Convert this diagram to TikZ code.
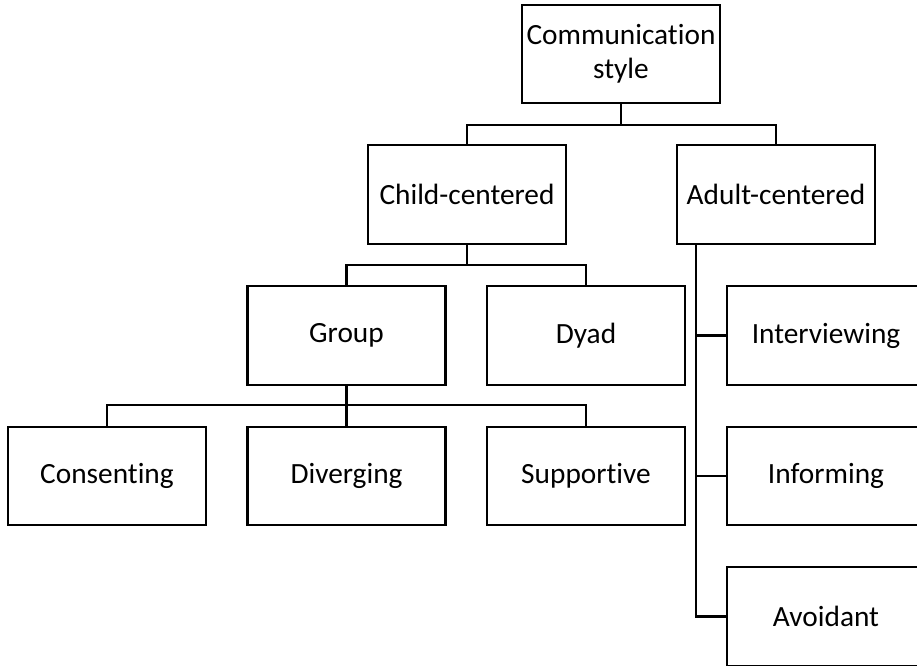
\documentclass[tikz,border=0pt]{standalone}
\usepackage{fontspec}
\setmainfont{Carlito}[RawFeature={-liga;-clig;-dlig}]
\usetikzlibrary{calc}
\tikzset{
  box/.style={draw=black, line width=1.6pt, fill=white, minimum width=148.5pt, minimum height=73.8pt, inner sep=0pt, align=center, font=\fontsize{22}{25.5}\selectfont},
  conn/.style={draw=black, line width=1.6pt}
}
\begin{document}
\begin{tikzpicture}[x=0.75pt,y=-0.75pt]
\useasboundingbox (0,0) rectangle (917,665);
\begin{scope}
\clip (0,0) rectangle (917,665);
\node[box] (comm) at (621,54) {Communication\\style};
\node[box] (child) at (467,194.5) {Child-centered};
\node[box] (adult) at (776,194.5) {Adult-centered};
\node[box] (group) at (346.5,335.5) {Group};
\node[box] (dyad) at (586,335.5) {Dyad};
\node[box] (cons) at (107,476) {Consenting};
\node[box] (div) at (346.5,476) {Diverging};
\node[box] (sup) at (586,476) {Supportive};
\node[box] (inter) at (826,335.5) {Interviewing};
\node[box] (inform) at (826,476) {Informing};
\node[box] (avoid) at (826,616.5) {Avoidant};
\coordinate (b1) at (621,125);
\coordinate (b2) at (467,265);
\coordinate (b3) at (346.5,405);
\coordinate (t0) at ($(adult.south west)+(20,0)$);
\draw[conn] (comm.south) -- (b1);
\draw[conn] (child.north) |- (b1) -| (adult.north);
\draw[conn] (child.south) -- (b2);
\draw[conn] (group.north) |- (b2) -| (dyad.north);
\draw[conn] (group.south) -- (div.north);
\draw[conn] (cons.north) |- (b3) -| (sup.north);
\draw[conn] (t0) |- (avoid.west);
\draw[conn] (inter.west) -- (inter.west -| t0);
\draw[conn] (inform.west) -- (inform.west -| t0);
\end{scope}
\end{tikzpicture}
\end{document}
